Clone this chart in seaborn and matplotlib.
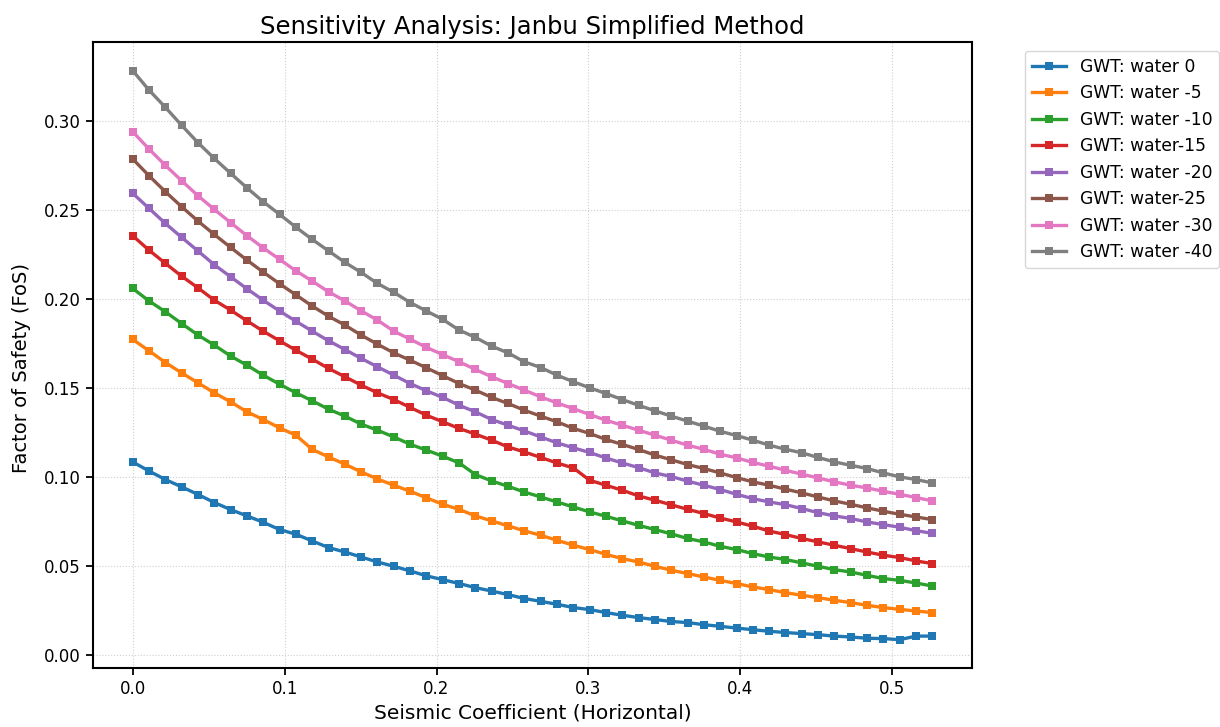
import numpy as np
import pandas as pd
import matplotlib
matplotlib.use("Agg")
import matplotlib.pyplot as plt
import seaborn as sns

seismic_coef = [0.0000, 0.0107, 0.0215, 0.0322, 0.0430, 0.0537, 0.0645, 0.0752, 0.0859, 0.0967,
                0.1074, 0.1182, 0.1289, 0.1397, 0.1504, 0.1611, 0.1719, 0.1826, 0.1934, 0.2041,
                0.2149, 0.2256, 0.2363, 0.2471, 0.2578, 0.2686, 0.2793, 0.2901, 0.3008, 0.3115,
                0.3223, 0.3330, 0.3438, 0.3545, 0.3653, 0.3760, 0.3867, 0.3975, 0.4082, 0.4190,
                0.4297, 0.4405, 0.4512, 0.4619, 0.4727, 0.4834, 0.4942, 0.5049, 0.5157, 0.5264]

labels = ["GWT: water 0", "GWT: water -5", "GWT: water -10", "GWT: water-15",
          "GWT: water -20", "GWT: water-25", "GWT: water -30", "GWT: water -40"]

fos_w0 = [0.1086, 0.1035, 0.0987, 0.0946, 0.0903, 0.0858, 0.0818, 0.0783, 0.0747, 0.0706,
          0.0680, 0.0642, 0.0605, 0.0580, 0.0552, 0.0524, 0.0500, 0.0474, 0.0446, 0.0425,
          0.0403, 0.0380, 0.0361, 0.0341, 0.0319, 0.0303, 0.0287, 0.0268, 0.0257, 0.0240,
          0.0225, 0.0212, 0.0201, 0.0190, 0.0184, 0.0172, 0.0163, 0.0153, 0.0144, 0.0135,
          0.0128, 0.0122, 0.0116, 0.0108, 0.0103, 0.0096, 0.0094, 0.0088, 0.0108, 0.0108]
fos_w5 = [0.1774, 0.1710, 0.1644, 0.1586, 0.1530, 0.1474, 0.1423, 0.1367, 0.1324, 0.1277,
          0.1236, 0.1156, 0.1114, 0.1073, 0.1030, 0.0990, 0.0955, 0.0921, 0.0884, 0.0848,
          0.0819, 0.0783, 0.0755, 0.0727, 0.0699, 0.0674, 0.0646, 0.0618, 0.0594, 0.0567,
          0.0543, 0.0524, 0.0500, 0.0478, 0.0459, 0.0440, 0.0421, 0.0403, 0.0384, 0.0369,
          0.0352, 0.0337, 0.0324, 0.0309, 0.0296, 0.0281, 0.0268, 0.0258, 0.0249, 0.0240]
fos_w10 = [0.2060, 0.1990, 0.1929, 0.1863, 0.1798, 0.1742, 0.1680, 0.1629, 0.1573, 0.1522,
           0.1474, 0.1429, 0.1382, 0.1343, 0.1298, 0.1264, 0.1226, 0.1185, 0.1152, 0.1118,
           0.1080, 0.1015, 0.0979, 0.0949, 0.0917, 0.0889, 0.0861, 0.0833, 0.0805, 0.0781,
           0.0755, 0.0730, 0.0706, 0.0682, 0.0656, 0.0637, 0.0612, 0.0594, 0.0571, 0.0552,
           0.0538, 0.0519, 0.0500, 0.0481, 0.0468, 0.0449, 0.0431, 0.0421, 0.0406, 0.0389]
fos_w15 = [0.2356, 0.2275, 0.2201, 0.2129, 0.2063, 0.1994, 0.1938, 0.1878, 0.1820, 0.1766,
           0.1713, 0.1663, 0.1611, 0.1564, 0.1517, 0.1474, 0.1436, 0.1392, 0.1348, 0.1311,
           0.1274, 0.1242, 0.1208, 0.1170, 0.1142, 0.1111, 0.1080, 0.1052, 0.0983, 0.0955,
           0.0927, 0.0895, 0.0871, 0.0845, 0.0820, 0.0796, 0.0771, 0.0749, 0.0725, 0.0698,
           0.0678, 0.0656, 0.0637, 0.0618, 0.0599, 0.0580, 0.0562, 0.0549, 0.0530, 0.0515]
fos_w20 = [0.2594, 0.2510, 0.2425, 0.2347, 0.2270, 0.2193, 0.2125, 0.2058, 0.1994, 0.1933,
           0.1876, 0.1820, 0.1766, 0.1717, 0.1667, 0.1620, 0.1573, 0.1526, 0.1485, 0.1448,
           0.1404, 0.1367, 0.1324, 0.1292, 0.1260, 0.1226, 0.1193, 0.1165, 0.1139, 0.1108,
           0.1080, 0.1054, 0.1024, 0.1004, 0.0978, 0.0955, 0.0931, 0.0904, 0.0880, 0.0861,
           0.0846, 0.0824, 0.0801, 0.0783, 0.0768, 0.0749, 0.0734, 0.0719, 0.0700, 0.0685]
fos_w25 = [0.2787, 0.2693, 0.2603, 0.2519, 0.2438, 0.2363, 0.2290, 0.2219, 0.2152, 0.2086,
           0.2024, 0.1961, 0.1904, 0.1854, 0.1798, 0.1747, 0.1698, 0.1657, 0.1614, 0.1570,
           0.1526, 0.1489, 0.1448, 0.1414, 0.1376, 0.1343, 0.1311, 0.1274, 0.1246, 0.1212,
           0.1184, 0.1156, 0.1124, 0.1098, 0.1071, 0.1049, 0.1024, 0.0998, 0.0974, 0.0955,
           0.0933, 0.0912, 0.0889, 0.0867, 0.0848, 0.0828, 0.0809, 0.0792, 0.0777, 0.0762]
fos_w30 = [0.2940, 0.2843, 0.2751, 0.2665, 0.2580, 0.2504, 0.2429, 0.2356, 0.2288, 0.2223,
           0.2159, 0.2101, 0.2041, 0.1990, 0.1934, 0.1882, 0.1820, 0.1775, 0.1729, 0.1688,
           0.1648, 0.1605, 0.1564, 0.1526, 0.1489, 0.1451, 0.1417, 0.1385, 0.1352, 0.1320,
           0.1292, 0.1264, 0.1236, 0.1208, 0.1180, 0.1157, 0.1129, 0.1109, 0.1083, 0.1062,
           0.1039, 0.1017, 0.0996, 0.0974, 0.0955, 0.0940, 0.0921, 0.0904, 0.0886, 0.0867]
fos_w40 = [0.3283, 0.3174, 0.3077, 0.2976, 0.2878, 0.2790, 0.2706, 0.2625, 0.2547, 0.2476,
           0.2404, 0.2335, 0.2271, 0.2206, 0.2150, 0.2088, 0.2038, 0.1981, 0.1933, 0.1886,
           0.1826, 0.1785, 0.1736, 0.1698, 0.1648, 0.1616, 0.1573, 0.1536, 0.1502, 0.1470,
           0.1436, 0.1404, 0.1373, 0.1343, 0.1315, 0.1287, 0.1258, 0.1234, 0.1208, 0.1180,
           0.1157, 0.1137, 0.1111, 0.1086, 0.1067, 0.1049, 0.1024, 0.1002, 0.0987, 0.0968]

series = [fos_w0, fos_w5, fos_w10, fos_w15, fos_w20, fos_w25, fos_w30, fos_w40]

rows = []
for lab, vals in zip(labels, series):
    for x, y in zip(seismic_coef, vals):
        rows.append({"kh": x, "fos": y, "gwt": lab})
df = pd.DataFrame(rows)

fig, ax = plt.subplots(figsize=(12.2, 7.27), dpi=100)
fig.subplots_adjust(left=0.076, right=0.797, top=0.942, bottom=0.081)

sns.lineplot(data=df, x="kh", y="fos", hue="gwt", hue_order=labels, palette="tab10",
             marker="s", markersize=5.5, markeredgewidth=0, linewidth=2.4,
             errorbar=None, ax=ax)

ax.set_title("Sensitivity Analysis: Janbu Simplified Method", fontsize=17.5)
ax.set_xlabel("Seismic Coefficient (Horizontal)", fontsize=14.5)
ax.set_ylabel("Factor of Safety (FoS)", fontsize=14)
ax.yaxis.set_label_coords(-0.07, 0.48)
ax.tick_params(labelsize=12, width=1.3, length=5)
ax.grid(True, linestyle=":", alpha=0.6)
for s in ax.spines.values():
    s.set_linewidth(1.5)

ax.legend(bbox_to_anchor=(1.05, 1), loc="upper left", fontsize=12.3)

plt.savefig("out.png", dpi=100)
